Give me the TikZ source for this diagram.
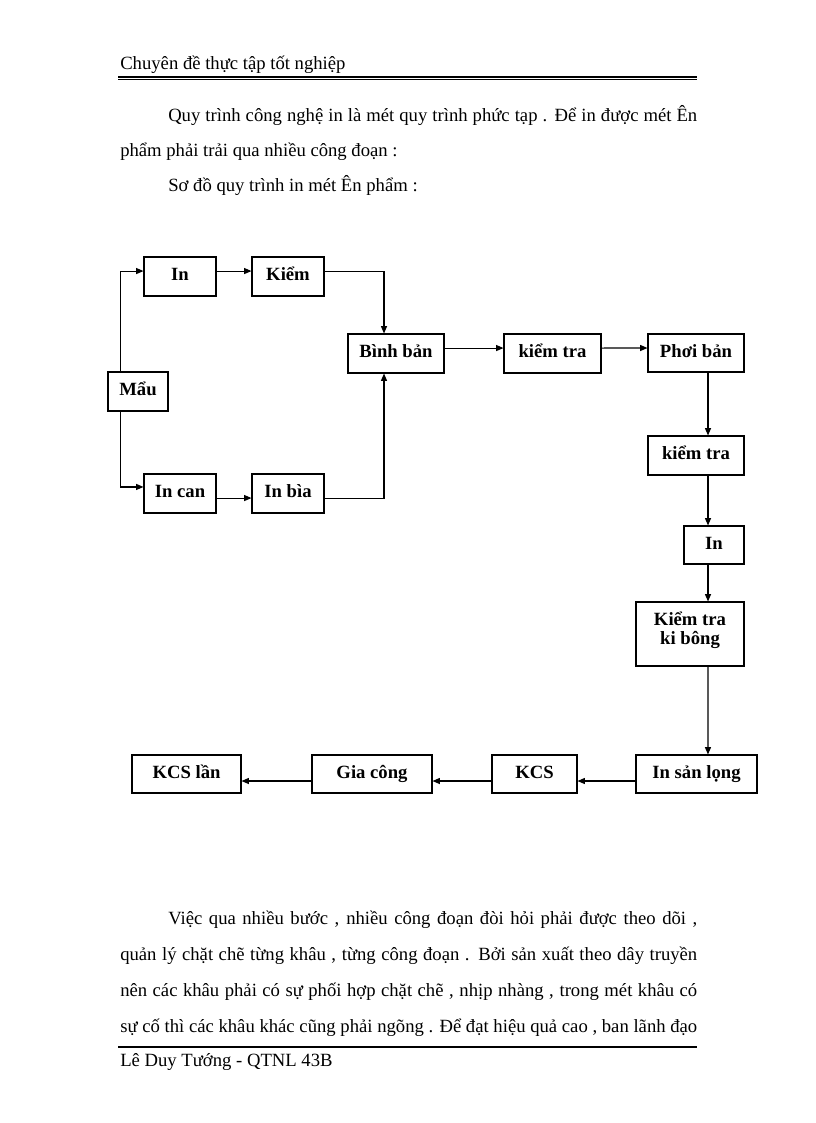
\documentclass[tikz,border=0pt]{standalone}
\usepackage{fontspec}
\setmainfont{Liberation Serif}
\usetikzlibrary{arrows.meta}
\begin{document}
\begin{tikzpicture}[x=0.75pt,y=-0.75pt,
  box/.style={draw, line width=0.8pt, inner sep=0pt, text height=10pt, text depth=3.5pt, font=\fontsize{14}{14.5}\selectfont\bfseries},
  tallbox/.style={draw, line width=0.8pt, inner sep=0pt, font=\fontsize{14}{14.5}\selectfont\bfseries},
  arr/.style={line width=0.8pt, -{Triangle[length=5.5pt,width=4.5pt]}},
  txt/.style={anchor=base west, inner sep=0pt, font=\fontsize{14}{17}\selectfont},
  rulethick/.style={line width=1.3pt},
  rulethin/.style={line width=0.5pt}]
\useasboundingbox[fill=white] (0,0) rectangle (816,1123);

% header
\node[txt] (hdr) at (120,70) {Chuyên đề thực tập tốt nghiệp};
\coordinate (hl) at (118,77);
\coordinate (hr) at (697,77);
\draw[rulethick] (hl) -- (hr);
\draw[rulethin] ([yshift=-2pt]hl) -- ([yshift=-2pt]hr);

% first paragraph
\node[txt] (p1) at (168,122) {\makebox[396.75pt][s]{Quy trình công nghệ in là mét quy trình phức tạp . Để in được mét Ên}};
\node[txt] (p2) at (120,157) {phẩm phải trải qua nhiều công đoạn :};
\node[txt] (p3) at (168,192) {Sơ đồ quy trình in mét Ên phẩm :};

% boxes
\node[box, minimum width=45pt, minimum height=29.25pt] (mau) at (138,391.5) {Mẩu};
\node[box, minimum width=54pt, minimum height=29.25pt] (in1) at (180,276.5) {In};
\node[box, minimum width=54pt, minimum height=29.25pt] (kiem) at (288,276.5) {Kiểm};
\node[box, minimum width=54pt, minimum height=29.25pt] (incan) at (180,493.5) {In can};
\node[box, minimum width=54pt, minimum height=29.25pt] (inbia) at (288,493.5) {In bìa};
\node[box, minimum width=72pt, minimum height=29.25pt] (binh) at (396,353.5) {Bình bản};
\node[box, minimum width=72.75pt, minimum height=29.25pt] (kt1) at (552.5,353.5) {kiểm tra};
\node[box, minimum width=72pt, minimum height=28.5pt] (phoi) at (696,353) {Phơi bản};
\node[box, minimum width=72pt, minimum height=29.25pt] (kt2) at (696,455.5) {kiểm tra};
\node[box, minimum width=45pt, minimum height=28.5pt] (in2) at (714,545) {In};
\node[tallbox, minimum width=81pt, minimum height=48pt] (ktkb) at (690,634) {\raisebox{2pt}[\height][\depth]{\begin{tabular}{@{}c@{}}Kiểm tra\\ki bông\end{tabular}}};
\node[box, minimum width=90.75pt, minimum height=28.5pt] (isl) at (696.5,774) {In sản lọng};
\node[box, minimum width=63.75pt, minimum height=28.5pt] (kcs) at (534.5,774) {KCS};
\node[box, minimum width=90pt, minimum height=28.5pt] (gc) at (372,774) {Gia công};
\node[box, minimum width=81.75pt, minimum height=28.5pt] (kcsl) at (186.5,774) {KCS lần};

% connectors
\draw[arr] ([xshift=9.75pt]mau.north west) |- ([yshift=4.1pt]in1.west);
\draw[arr] ([xshift=9.75pt]mau.south west) |- ([yshift=4.9pt]incan.west);
\draw[arr] ([yshift=4.1pt]in1.east) -- ([yshift=4.1pt]kiem.west);
\draw[arr] ([yshift=4.1pt]kiem.east) -| ([xshift=-9pt]binh.north);
\draw[arr] ([yshift=-3.4pt]incan.east) -- ([yshift=-3.4pt]inbia.west);
\draw[arr] ([yshift=-3.4pt]inbia.east) -| ([xshift=-9pt]binh.south);
\draw[arr] ([yshift=4.1pt]binh.east) -- ([yshift=4.1pt]kt1.west);
\draw[arr] ([yshift=4.1pt]kt1.east) -- ([yshift=3.75pt]phoi.west);
\draw[arr] ([xshift=9pt]phoi.south) -- ([xshift=9pt]kt2.north);
\draw[arr] ([xshift=9pt]kt2.south) -- ([xshift=-4.5pt]in2.north);
\draw[arr] ([xshift=-4.5pt]in2.south) -- ([xshift=13.5pt]ktkb.north);
\draw[arr] ([xshift=13.5pt]ktkb.south) -- ([xshift=8.6pt]isl.north);
\draw[arr] ([yshift=-5.25pt]isl.west) -- ([yshift=-5.25pt]kcs.east);
\draw[arr] ([yshift=-5.25pt]kcs.west) -- ([yshift=-5.25pt]gc.east);
\draw[arr] ([yshift=-5.25pt]gc.west) -- ([yshift=-5.25pt]kcsl.east);

% second paragraph
\node[txt] (q1) at (168,924) {\makebox[396.75pt][s]{Việc qua nhiều bước , nhiều công đoạn đòi hỏi phải được theo dõi ,}};
\node[txt] (q2) at (120,960) {\makebox[432.75pt][s]{quản lý chặt chẽ từng khâu , từng công đoạn . Bởi sản xuất theo dây truyền}};
\node[txt] (q3) at (120,996) {\makebox[432.75pt][s]{nên các khâu phải có sự phối hợp chặt chẽ , nhịp nhàng , trong mét khâu có}};
\node[txt] (q4) at (120,1032) {\makebox[432.75pt][s]{sự cố thì các khâu khác cũng phải ngõng . Để đạt hiệu quả cao , ban lãnh đạo}};

% footer
\coordinate (fl) at (118,1047);
\coordinate (fr) at (697,1047);
\draw[rulethick] (fl) -- (fr);
\node[txt] (ftr) at (120,1066) {Lê Duy Tướng - QTNL 43B};
\end{tikzpicture}
\end{document}
